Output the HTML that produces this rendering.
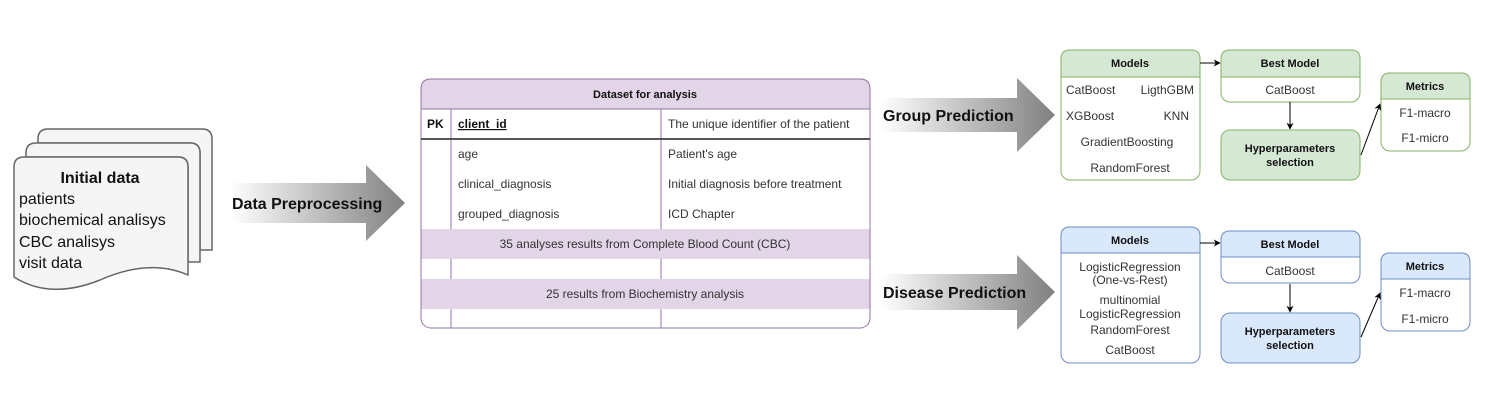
<!DOCTYPE html>
<html><head><meta charset="utf-8"><style>
body{margin:0;background:#fff}
svg{display:block;font-family:"Liberation Sans",sans-serif}
</style></head><body>
<svg width="1510" height="400" viewBox="0 0 1510 400">
<defs>
<linearGradient id="ag" x1="0" x2="1" y1="0" y2="0"><stop offset="0" stop-color="#fff"/><stop offset="1" stop-color="#808080"/></linearGradient>
<marker id="ah" viewBox="0 0 10 10" refX="9" refY="5" markerWidth="7" markerHeight="7" orient="auto"><path d="M0,0 L10,5 L0,10 L3,5 z" fill="#000"/></marker>
</defs>

<!-- document stack -->
<g fill="#f5f5f5" stroke="#666" stroke-width="1.5">
<path d="M38,139 Q38,129 48,129 L202,129 Q212,129 212,139 L212,250 L200,250 L200,153 Q200,143 190,143 L38,143 Z"/>
<path d="M26,153 Q26,143 36,143 L190,143 Q200,143 200,153 L200,262 L188,262 L188,167 Q188,157 178,157 L26,157 Z"/>
<path d="M14,167 Q14,157 24,157 L178,157 Q188,157 188,167 L188,275 Q150,258 100,280 Q50,300 14,277 Z"/>
</g>
<g font-size="16" fill="#111">
<text x="100" y="183" text-anchor="middle" font-weight="bold">Initial data</text>
<text x="19" y="204">patients</text>
<text x="19" y="225">biochemical analisys</text>
<text x="19" y="247">CBC analisys</text>
<text x="19" y="268">visit data</text>
</g>

<!-- big arrows -->
<g>
<path d="M230,183 L366,183 L366,165 L405,203 L366,241 L366,223 L230,223 Z" fill="url(#ag)"/>
<text x="232" y="209" font-size="16" font-weight="bold" fill="#111">Data Preprocessing</text>
</g>
<g>
<path d="M880,98 L1017,98 L1017,78 L1055,115 L1017,152 L1017,132 L880,132 Z" fill="url(#ag)"/>
<text x="883" y="121" font-size="16" font-weight="bold" fill="#111">Group Prediction</text>
</g>
<g>
<path d="M880,274 L1017,274 L1017,255 L1055,292 L1017,330 L1017,310 L880,310 Z" fill="url(#ag)"/>
<text x="883" y="298" font-size="16" font-weight="bold" fill="#111">Disease Prediction</text>
</g>

<!-- dataset table -->
<g font-size="12" fill="#333">
<rect x="421" y="79" width="449" height="249" rx="10" fill="#fff" stroke="#9673a6"/>
<path d="M421,109 L421,89 Q421,79 431,79 L860,79 Q870,79 870,89 L870,109 Z" fill="#e1d5e7" stroke="#9673a6"/>
<rect x="421.5" y="229" width="448" height="30" fill="#e1d5e7"/>
<rect x="421.5" y="279" width="448" height="30" fill="#e1d5e7"/>
<g stroke="#9673a6"><line x1="451" y1="109" x2="451" y2="229"/><line x1="661" y1="109" x2="661" y2="229"/>
<line x1="451" y1="259" x2="451" y2="279"/><line x1="661" y1="259" x2="661" y2="279"/>
<line x1="451" y1="309" x2="451" y2="328"/><line x1="661" y1="309" x2="661" y2="328"/></g>
<line x1="421" y1="139" x2="870" y2="139" stroke="#555" stroke-width="2"/>
<text x="645" y="98" text-anchor="middle" font-weight="bold" fill="#111" font-size="11">Dataset for analysis</text>
<text x="427" y="128" font-weight="bold" fill="#111">PK</text>
<text x="458" y="128" font-weight="bold" fill="#111" text-decoration="underline">client_id</text>
<text x="668" y="128">The unique identifier of the patient</text>
<text x="458" y="158">age</text><text x="668" y="158">Patient's age</text>
<text x="458" y="188">clinical_diagnosis</text><text x="668" y="188">Initial diagnosis before treatment</text>
<text x="458" y="218">grouped_diagnosis</text><text x="668" y="218">ICD Chapter</text>
<text x="645" y="248" text-anchor="middle">35 analyses results from Complete Blood Count (CBC)</text>
<text x="645" y="298" text-anchor="middle">25 results from Biochemistry analysis</text>
</g>

<!-- green group -->
<g font-size="12" fill="#333">
<rect x="1061" y="50" width="139" height="130" rx="9" fill="#fff" stroke="#82b366"/>
<path d="M1061,77 L1061,59 Q1061,50 1070,50 L1191,50 Q1200,50 1200,59 L1200,77 Z" fill="#d5e8d4" stroke="#82b366"/>
<text x="1130" y="67" text-anchor="middle" font-weight="bold" fill="#111" font-size="11">Models</text>
<text x="1066" y="94">CatBoost</text><text x="1194" y="94" text-anchor="end">LigthGBM</text>
<text x="1066" y="120">XGBoost</text><text x="1189" y="120" text-anchor="end">KNN</text>
<text x="1127" y="146" text-anchor="middle">GradientBoosting</text>
<text x="1130" y="172" text-anchor="middle">RandomForest</text>
</g>
<g font-size="12" fill="#333">
<rect x="1221" y="50" width="139" height="52" rx="9" fill="#fff" stroke="#82b366"/>
<path d="M1221,77 L1221,59 Q1221,50 1230,50 L1351,50 Q1360,50 1360,59 L1360,77 Z" fill="#d5e8d4" stroke="#82b366"/>
<text x="1290" y="67" text-anchor="middle" font-weight="bold" fill="#111" font-size="11">Best Model</text>
<text x="1290" y="94" text-anchor="middle">CatBoost</text>
</g>
<g>
<rect x="1221" y="130" width="139" height="50" rx="9" fill="#d5e8d4" stroke="#82b366"/>
<text x="1290" y="152" text-anchor="middle" font-weight="bold" font-size="11" fill="#111">Hyperparameters</text>
<text x="1290" y="166" text-anchor="middle" font-weight="bold" font-size="11" fill="#111">selection</text>
</g>
<g font-size="12" fill="#333">
<rect x="1381" y="73" width="89" height="78" rx="9" fill="#fff" stroke="#82b366"/>
<path d="M1381,99 L1381,82 Q1381,73 1390,73 L1461,73 Q1470,73 1470,82 L1470,99 Z" fill="#d5e8d4" stroke="#82b366"/>
<text x="1425" y="90" text-anchor="middle" font-weight="bold" fill="#111" font-size="11">Metrics</text>
<text x="1425" y="117" text-anchor="middle">F1-macro</text>
<text x="1425" y="142" text-anchor="middle">F1-micro</text>
</g>

<!-- blue group -->
<g font-size="12" fill="#333">
<rect x="1061" y="227" width="139" height="136" rx="9" fill="#fff" stroke="#6c8ebf"/>
<path d="M1061,253 L1061,236 Q1061,227 1070,227 L1191,227 Q1200,227 1200,236 L1200,253 Z" fill="#dae8fc" stroke="#6c8ebf"/>
<text x="1130" y="244" text-anchor="middle" font-weight="bold" fill="#111" font-size="11">Models</text>
<text x="1130" y="271" text-anchor="middle">LogisticRegression</text>
<text x="1130" y="284" text-anchor="middle">(One-vs-Rest)</text>
<text x="1130" y="304" text-anchor="middle">multinomial</text>
<text x="1130" y="318" text-anchor="middle">LogisticRegression</text>
<text x="1130" y="334" text-anchor="middle">RandomForest</text>
<text x="1130" y="354" text-anchor="middle">CatBoost</text>
</g>
<g font-size="12" fill="#333">
<rect x="1221" y="231" width="139" height="52" rx="9" fill="#fff" stroke="#6c8ebf"/>
<path d="M1221,257 L1221,240 Q1221,231 1230,231 L1351,231 Q1360,231 1360,240 L1360,257 Z" fill="#dae8fc" stroke="#6c8ebf"/>
<text x="1290" y="248" text-anchor="middle" font-weight="bold" fill="#111" font-size="11">Best Model</text>
<text x="1290" y="275" text-anchor="middle">CatBoost</text>
</g>
<g>
<rect x="1221" y="313" width="139" height="50" rx="9" fill="#dae8fc" stroke="#6c8ebf"/>
<text x="1290" y="335" text-anchor="middle" font-weight="bold" font-size="11" fill="#111">Hyperparameters</text>
<text x="1290" y="349" text-anchor="middle" font-weight="bold" font-size="11" fill="#111">selection</text>
</g>
<g font-size="12" fill="#333">
<rect x="1381" y="253" width="89" height="78" rx="9" fill="#fff" stroke="#6c8ebf"/>
<path d="M1381,279 L1381,262 Q1381,253 1390,253 L1461,253 Q1470,253 1470,262 L1470,279 Z" fill="#dae8fc" stroke="#6c8ebf"/>
<text x="1425" y="270" text-anchor="middle" font-weight="bold" fill="#111" font-size="11">Metrics</text>
<text x="1425" y="297" text-anchor="middle">F1-macro</text>
<text x="1425" y="323" text-anchor="middle">F1-micro</text>
</g>

<!-- connectors -->
<g stroke="#000" fill="none" marker-end="url(#ah)">
<line x1="1200" y1="63" x2="1220" y2="63"/>
<line x1="1290" y1="102" x2="1290" y2="129"/>
<line x1="1361" y1="155" x2="1380" y2="104"/>
<line x1="1200" y1="243" x2="1220" y2="243"/>
<line x1="1290" y1="284" x2="1290" y2="312"/>
<line x1="1361" y1="337" x2="1380" y2="293"/>
</g>
</svg>
</body></html>
